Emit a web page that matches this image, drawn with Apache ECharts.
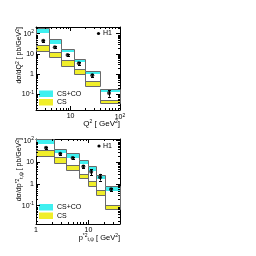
<!DOCTYPE html>
<html><head><meta charset="utf-8">
<script src="https://cdn.jsdelivr.net/npm/echarts@6/dist/echarts.min.js"></script>
<style>html,body{margin:0;padding:0;background:#fff}#c{width:256px;height:256px}</style>
</head><body><div id="c"></div>
<script>
// ---- top panel: d sigma / d Q^2 ----
const q2Edges = [2, 3.6, 6.5, 12, 20, 40, 100];
const q2CoHigh = [189, 51, 17.3, 5.3, 1.46, 0.187];
const q2CoLow = [107, 29, 11.9, 3.9, 1.0, 0.128];
const q2CsHigh = [27, 12.7, 4.9, 1.77, 0.45, 0.052];
const q2CsLow = [13.8, 7.2, 2.6, 0.97, 0.255, 0.037];
const q2DataX = [2.8, 4.8, 8.7, 14.7, 27.5, 60];
const q2DataY = [44.5, 21, 8.7, 3.4, 0.86, 0.115];
const q2ErrLo = [39, 18.5, 7.7, 2.95, 0.72, 0.075];
const q2ErrHi = [50, 23.5, 9.8, 3.9, 1.02, 0.16];
// tick labels keyed by decade exponent
const q2XTicks = {'1': '10', '2': '10{s|2}'};
const q2YTicks = {'-1': '10{s|-1}', '0': '1', '1': '10', '2': '10{s|2}'};

// ---- bottom panel: d sigma / d pt*^2 ----
const ptEdges = [1, 2.2, 3.75, 6.5, 9.6, 14, 20.6, 40];
const ptCoHigh = [130, 42.6, 26.4, 13.2, 6.5, 2.7, 0.79];
const ptCoLow = [68.7, 26.4, 16.4, 8.4, 3.9, 1.66, 0.49];
const ptCsHigh = [38.3, 18.2, 7.8, 2.9, 1.32, 0.546, 0.111];
const ptCsLow = [19.2, 9.6, 4.57, 1.9, 0.835, 0.32, 0.069];
const ptDataX = [1.55, 2.9, 5, 8, 11.3, 16.7, 27];
const ptDataY = [47.3, 25, 15.8, 6.5, 3.7, 2.06, 0.575];
const ptErrLo = [42, 22, 13.8, 5.6, 2.6, 1.45, 0.5];
const ptErrHi = [53, 28, 18.2, 7.5, 4.8, 2.95, 0.66];
const ptXTicks = {'0': '1', '1': '10'};
const ptYTicks = {'-1': '10{s|-1}', '0': '1', '1': '10', '2': '10{s|2}'};

const CYAN = '#3ff0f0', YELLOW = '#f0ee2a', EDGE = '#6a6a6a';
const FONT = 'Liberation Sans';

const panels = [
  {edges: q2Edges, coH: q2CoHigh, coL: q2CoLow, csH: q2CsHigh, csL: q2CsLow,
   dx: q2DataX, dy: q2DataY, eLo: q2ErrLo, eHi: q2ErrHi,
   xmin: 2, xmax: 100, ymin: 0.0165, ymax: 212, xt: q2XTicks, yt: q2YTicks,
   grid: {left: 36, top: 27, width: 84, height: 83}},
  {edges: ptEdges, coH: ptCoHigh, coL: ptCoLow, csH: ptCsHigh, csL: ptCsLow,
   dx: ptDataX, dy: ptDataY, eLo: ptErrLo, eHi: ptErrHi,
   xmin: 1, xmax: 40, ymin: 0.0143, ymax: 120, xt: ptXTicks, yt: ptYTicks,
   grid: {left: 36, top: 139, width: 84, height: 85}}
];

function decadeLabel(map) {
  return function (v) {
    const l = Math.log10(v), r = Math.round(l);
    if (Math.abs(l - r) > 1e-6) return '';
    const key = String(r);
    return map[key] !== undefined ? map[key] : '';
  };
}
const rich = {s: {fontSize: 5, fontFamily: FONT, color: '#000', verticalAlign: 'top', padding: [0, 0, 4, 0]}};

function bandRender(params, api) {
  const cs = params.coordSys;
  const cy = y => Math.round(Math.max(cs.y, Math.min(cs.y + cs.height, y)));
  const x0 = Math.round(api.coord([api.value(0), 1])[0]);
  const x1 = Math.round(api.coord([api.value(1), 1])[0]);
  const yCoH = cy(api.coord([api.value(0), api.value(2)])[1]);
  const yCoL = cy(api.coord([api.value(0), api.value(3)])[1]);
  const yCsH = cy(api.coord([api.value(0), api.value(4)])[1]);
  const yCsL = cy(api.coord([api.value(0), api.value(5)])[1]);
  const ls = {stroke: EDGE, lineWidth: 1, fill: null};
  return {type: 'group', children: [
    {type: 'rect', shape: {x: x0, y: yCoH, width: x1 - x0, height: yCoL - yCoH}, style: {fill: CYAN}},
    {type: 'rect', shape: {x: x0, y: yCsH, width: x1 - x0, height: yCsL - yCsH}, style: {fill: YELLOW}},
    {type: 'rect', shape: {x: x0 + 0.5, y: yCoH + 0.5, width: x1 - x0, height: yCsL - yCoH}, style: ls},
    {type: 'line', shape: {x1: x0, y1: yCsH + 0.5, x2: x1, y2: yCsH + 0.5}, style: ls}
  ]};
}

function errRender(params, api) {
  const p1 = api.coord([api.value(0), api.value(1)]);
  const p2 = api.coord([api.value(0), api.value(2)]);
  const x = Math.round(p1[0]) + 0.5;
  const st = {stroke: '#000', lineWidth: 1};
  return {type: 'group', children: [
    {type: 'line', shape: {x1: x, y1: p1[1], x2: x, y2: p2[1]}, style: st},
    {type: 'line', shape: {x1: x - 1.5, y1: Math.round(p1[1]) + 0.5, x2: x + 1.5, y2: Math.round(p1[1]) + 0.5}, style: st},
    {type: 'line', shape: {x1: x - 1.5, y1: Math.round(p2[1]) + 0.5, x2: x + 1.5, y2: Math.round(p2[1]) + 0.5}, style: st}
  ]};
}

function minorValues(lo, hi) {
  const out = [];
  for (let e = Math.floor(Math.log10(lo)); e <= Math.ceil(Math.log10(hi)); e++) {
    for (let m = 2; m <= 9; m++) {
      const v = m * Math.pow(10, e);
      if (v > lo * 1.0001 && v < hi * 0.9999) out.push(v);
    }
  }
  return out;
}

function tickRender(params, api) {
  const cs = params.coordSys;
  const kind = api.value(2);
  const st = {stroke: '#000', lineWidth: 1};
  if (kind === 0) {
    const x = Math.round(api.coord([api.value(0), api.value(1)])[0]) + 0.5;
    return {type: 'group', children: [
      {type: 'line', shape: {x1: x, y1: cs.y + cs.height, x2: x, y2: cs.y + cs.height - 2}, style: st},
      {type: 'line', shape: {x1: x, y1: cs.y, x2: x, y2: cs.y + 2}, style: st}
    ]};
  }
  const y = Math.round(api.coord([api.value(0), api.value(1)])[1]) + 0.5;
  return {type: 'group', children: [
    {type: 'line', shape: {x1: cs.x, y1: y, x2: cs.x + 2, y2: y}, style: st},
    {type: 'line', shape: {x1: cs.x + cs.width, y1: y, x2: cs.x + cs.width - 2, y2: y}, style: st}
  ]};
}

const option = {animation: false, grid: [], xAxis: [], yAxis: [], series: [], graphic: []};
panels.forEach((p, i) => {
  option.grid.push(Object.assign({containLabel: false}, p.grid));
  const axisLine = {show: true, lineStyle: {color: '#000', width: 1}};
  const tick = {show: true, inside: true, length: 4, lineStyle: {color: '#000'}};
  option.xAxis.push({type: 'log', logBase: 10, gridIndex: i, min: p.xmin, max: p.xmax, position: 'bottom',
    axisLine, axisTick: tick, splitLine: {show: false},
    axisLabel: {formatter: decadeLabel(p.xt), fontSize: 7, fontFamily: FONT, color: '#000', margin: 3, rich}});
  option.xAxis.push({type: 'log', logBase: 10, gridIndex: i, min: p.xmin, max: p.xmax, position: 'top',
    axisLine, axisTick: tick, splitLine: {show: false}, axisLabel: {show: false}});
  option.yAxis.push({type: 'log', logBase: 10, gridIndex: i, min: p.ymin, max: p.ymax, position: 'left',
    axisLine, axisTick: tick, splitLine: {show: false},
    axisLabel: {formatter: decadeLabel(p.yt), fontSize: 7, fontFamily: FONT, color: '#000', margin: 2, rich}});
  option.yAxis.push({type: 'log', logBase: 10, gridIndex: i, min: p.ymin, max: p.ymax, position: 'right',
    axisLine, axisTick: tick, splitLine: {show: false}, axisLabel: {show: false}});
  const xi = 2 * i, yi = 2 * i;
  const bands = p.coH.map((v, k) => [p.edges[k], p.edges[k + 1], v, p.coL[k], p.csH[k], p.csL[k]]);
  option.series.push({type: 'custom', xAxisIndex: xi, yAxisIndex: yi, renderItem: bandRender, data: bands, z: 2});
  option.series.push({type: 'custom', xAxisIndex: xi, yAxisIndex: yi, renderItem: errRender,
    data: p.dx.map((x, k) => [x, p.eLo[k], p.eHi[k]]), z: 4});
  option.series.push({type: 'scatter', xAxisIndex: xi, yAxisIndex: yi, symbol: 'circle', symbolSize: 4,
    itemStyle: {color: '#000'}, data: p.dx.map((x, k) => [x, p.dy[k]]), z: 5});
  const ticks = minorValues(p.xmin, p.xmax).map(v => [v, p.ymin * 2, 0])
    .concat(minorValues(p.ymin, p.ymax).map(v => [p.xmin * 1.1, v, 1]));
  option.series.push({type: 'custom', xAxisIndex: xi, yAxisIndex: yi, renderItem: tickRender, data: ticks, z: 6, silent: true});
});

const T = (x, y, text, extra) => Object.assign({type: 'text', x, y,
  style: Object.assign({text, fontSize: 7, fontFamily: FONT, fill: '#000', textVerticalAlign: 'middle'}, extra || {})});
// legends
[[0, 90.5], [1, 204]].forEach(([i, y0]) => {
  option.graphic.push({type: 'rect', shape: {x: 39, y: y0, width: 14, height: 6.5}, style: {fill: CYAN}});
  option.graphic.push({type: 'rect', shape: {x: 39, y: y0 + 8.5, width: 14, height: 6.5}, style: {fill: YELLOW}});
  option.graphic.push(T(57, y0 + 3.5, 'CS+CO'));
  option.graphic.push(T(57, y0 + 12, 'CS'));
});
// H1 labels
[[98.5, 33.5], [99, 146]].forEach(([x, y]) => {
  option.graphic.push({type: 'circle', shape: {cx: x, cy: y, r: 1.6}, style: {fill: '#000'}});
  option.graphic.push(T(103, y, 'H1'));
});
// axis titles
const subRich = {s: {fontSize: 5, fontFamily: FONT, verticalAlign: 'top', padding: [0, 0, 4, 0]},
                 u: {fontSize: 5, fontFamily: FONT, verticalAlign: 'bottom', padding: [4, 0, 0, 0]}};
option.graphic.push({type: 'text', x: 120, y: 124, style: {
  text: 'Q{s|2} [ GeV{s|2}]', align: 'right', verticalAlign: 'middle', fontSize: 8, fontFamily: FONT, fill: '#000', rich: subRich}});
option.graphic.push({type: 'text', x: 120, y: 238, style: {
  text: 'p{s|*2}{u|t,ψ} [ GeV{s|2}]', align: 'right', verticalAlign: 'middle', fontSize: 7.5, fontFamily: FONT, fill: '#000', rich: subRich}});
option.graphic.push({type: 'text', x: 24, y: 27, rotation: Math.PI / 2, style: {
  text: 'dσ/dQ{s|2} [ pb/GeV{s|2}]', align: 'right', verticalAlign: 'bottom', fontSize: 7, fontFamily: FONT, fill: '#000', rich: subRich}});
option.graphic.push({type: 'text', x: 24, y: 138, rotation: Math.PI / 2, style: {
  text: 'dσ/dp{s|*2}{u|t,ψ} [ pb/GeV{s|2}]', align: 'right', verticalAlign: 'bottom', fontSize: 7, fontFamily: FONT, fill: '#000', rich: subRich}});

const chart = echarts.init(document.getElementById('c'), null, {renderer: 'canvas'});
chart.setOption(option);
</script></body></html>
